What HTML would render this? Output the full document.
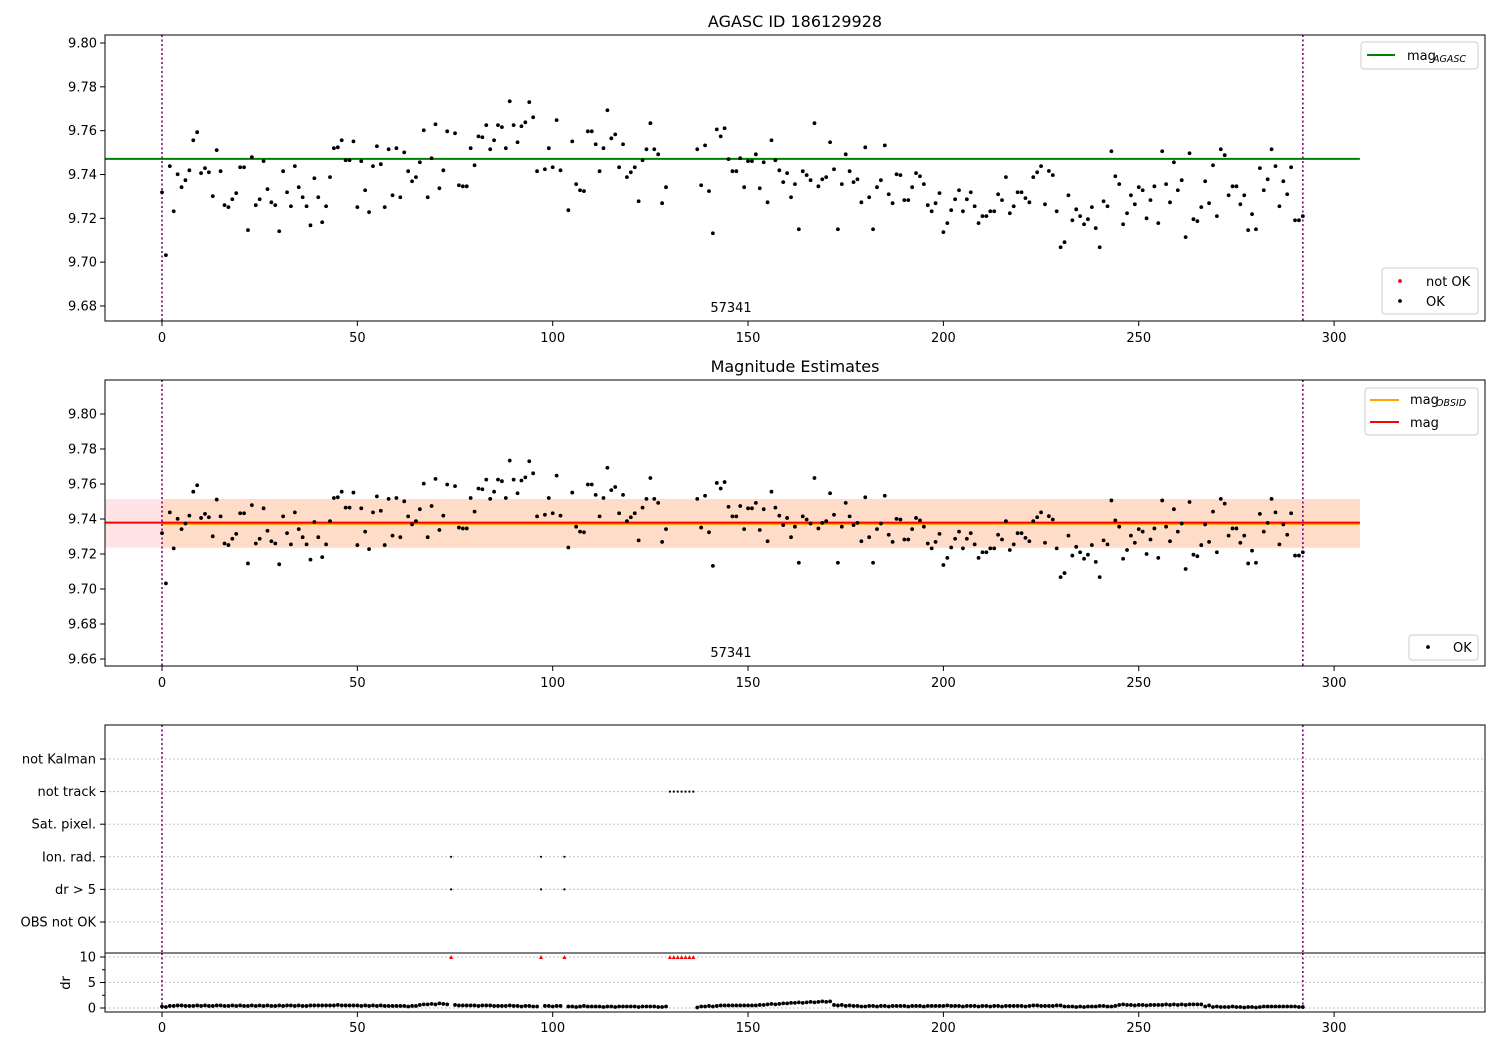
<!DOCTYPE html>
<html><head><meta charset="utf-8"><style>
body{margin:0;background:#fff}
svg text{font-family:"DejaVu Sans","Liberation Sans",sans-serif;fill:#000}
</style></head><body>
<svg id="fig" xmlns="http://www.w3.org/2000/svg" width="1500" height="1050" viewBox="0 0 1500 1050"></svg>
<script>
const N=[null];
const magValues=[9.7319,9.7032,9.7438,9.7232,9.7401,9.7342,9.7374,9.7419,9.7556,9.7593,
9.7406,9.7429,9.7410,9.7301,9.7511,9.7415,9.7260,9.7251,9.7287,9.7315,
9.7433,9.7433,9.7146,9.7479,9.7260,9.7287,9.7461,9.7333,9.7273,9.7260,
9.7141,9.7415,9.7319,9.7255,9.7438,9.7342,9.7296,9.7255,9.7168,9.7383,
9.7296,9.7182,9.7255,9.7388,9.7520,9.7524,9.7556,9.7465,9.7465,9.7551,
9.7251,9.7461,9.7328,9.7228,9.7438,9.7529,9.7447,9.7251,9.7515,9.7305,
9.7520,9.7296,9.7501,9.7415,9.7369,9.7388,9.7456,9.7602,9.7296,9.7474,
9.7629,9.7337,9.7419,9.7597,null,9.7588,9.7351,9.7346,9.7346,9.7520,
9.7442,9.7574,9.7570,9.7625,9.7515,9.7556,9.7625,9.7616,9.7520,9.7734,
9.7625,9.7547,9.7620,9.7638,9.7730,9.7661,9.7415,null,9.7424,9.7520,
9.7433,9.7648,9.7419,null,9.7237,9.7551,9.7356,9.7328,9.7324,9.7597,
9.7597,9.7538,9.7415,9.7520,9.7693,9.7565,9.7583,9.7433,9.7538,9.7388,
9.7410,9.7433,9.7278,9.7465,9.7515,9.7634,9.7515,9.7492,9.7269,9.7342,
null,null,null,null,null,null,null,9.7515,9.7351,9.7533,
9.7324,9.7132,9.7606,9.7574,9.7611,9.7470,9.7415,9.7415,9.7474,9.7342,
9.7461,9.7461,9.7492,9.7337,9.7456,9.7273,9.7556,9.7465,9.7419,9.7365,
9.7406,9.7296,9.7356,9.7150,9.7415,9.7397,9.7374,9.7634,9.7346,9.7378,
9.7388,9.7547,9.7424,9.7150,9.7356,9.7492,9.7415,9.7365,9.7378,9.7273,
9.7524,9.7296,9.7150,9.7342,9.7374,9.7533,9.7310,9.7269,9.7401,9.7397,
9.7283,9.7283,9.7342,9.7406,9.7392,9.7356,9.7260,9.7232,9.7269,9.7315,
9.7137,9.7178,9.7237,9.7287,9.7328,9.7232,9.7287,9.7319,9.7255,9.7178,
9.7210,9.7210,9.7232,9.7232,9.7310,9.7283,9.7388,9.7223,9.7255,9.7319,
9.7319,9.7292,9.7273,9.7388,9.7410,9.7438,9.7264,9.7416,9.7397,9.7232,
9.7068,9.7091,9.7305,9.7191,9.7241,9.7210,9.7173,9.7196,9.7251,9.7155,
9.7068,9.7278,9.7255,9.7506,9.7392,9.7356,9.7173,9.7223,9.7305,9.7264,
9.7342,9.7328,9.7200,9.7283,9.7346,9.7178,9.7506,9.7356,9.7273,9.7456,
9.7328,9.7374,9.7114,9.7497,9.7196,9.7187,9.7251,9.7369,9.7269,9.7442,
9.7210,9.7515,9.7488,9.7305,9.7346,9.7346,9.7264,9.7305,9.7146,9.7219,
9.7150,9.7429,9.7328,9.7378,9.7515,9.7438,9.7255,9.7369,9.7310,9.7433,
9.7191,9.7191,9.7210];
const drValues=[.3,.2,.4,.4,.5,.5,.4,.4,.4,.5,
.4,.5,.4,.4,.5,.5,.4,.4,.5,.4,
.5,.4,.4,.5,.4,.5,.4,.5,.4,.4,
.5,.4,.5,.5,.4,.5,.4,.4,.5,.5,
.5,.5,.5,.5,.5,.6,.5,.5,.5,.5,
.5,.4,.5,.4,.5,.4,.5,.4,.4,.4,
.4,.4,.4,.3,.4,.4,.6,.7,.7,.8,
.7,.9,.8,.7,10,.6,.5,.5,.5,.5,
.5,.4,.5,.5,.5,.4,.4,.4,.4,.5,
.4,.4,.3,.4,.4,.3,.3,10,.4,.4,
.3,.4,.4,10,.3,.3,.2,.3,.4,.3,
.3,.3,.3,.2,.3,.3,.2,.3,.3,.3,
.3,.3,.2,.3,.3,.3,.3,.2,.2,.3,
10,10,10,10,10,10,10,
.1,.3,.3,.4,.3,.4,.5,.5,.5,.5,
.5,.5,.5,.5,.5,.5,.6,.6,.7,.8,
.7,.8,.9,.9,1.0,1.0,1.1,1.0,1.1,1.2,
1.1,1.2,1.3,1.2,1.3,.6,.5,.6,.4,.5,
.4,.4,.3,.3,.4,.4,.3,.4,.4,.3,
.4,.4,.4,.4,.3,.4,.4,.4,.3,.4,
.4,.4,.4,.4,.5,.4,.4,.4,.3,.4,
.4,.4,.3,.4,.4,.3,.4,.4,.3,.4,
.4,.4,.4,.4,.3,.4,.5,.5,.4,.4,
.4,.4,.5,.5,.3,.3,.3,.2,.3,.2,
.3,.3,.3,.4,.4,.3,.3,.4,.6,.7,
.6,.6,.5,.6,.6,.5,.6,.6,.6,.6,
.7,.6,.7,.6,.7,.6,.7,.7,.7,.7,
.3,.5,.2,.3,.2,.2,.2,.3,.2,.2,
.1,.2,.2,.1,.2,.3,.3,.3,.3,.3,
.3,.3,.3,.3,.2,.2];
const flagCategories=["not Kalman","not track","Sat. pixel.","Ion. rad.","dr > 5","OBS not OK"];
const notTrackIdx=[130,131,132,133,134,135,136];
const ionRadIdx=[74,97,103];
const drGt5Idx=[74,97,103];
const magAgasc=9.7471;
const magMean=9.7379;
const magObsid=9.7372;
const bandLo=9.7236, bandHi=9.7514;
const obsStart=0, obsEnd=292, lineEnd=306.6;
const xTicks=[0,50,100,150,200,250,300];
const topYTicks=[9.68,9.70,9.72,9.74,9.76,9.78,9.80];
const midYTicks=[9.66,9.68,9.70,9.72,9.74,9.76,9.78,9.80];
const drTicks=[0,5,10];

const svg=document.getElementById('fig');
const NS='http://www.w3.org/2000/svg';
function mk(tag,attrs,parent,txt){const e=document.createElementNS(NS,tag);for(const k in attrs)e.setAttribute(k,attrs[k]);if(txt!==undefined)e.textContent=txt;(parent||svg).appendChild(e);return e;}
const L=105,R=1485;
const xS=v=>162+v*3.907;
const yTop=v=>43+(9.80-v)*2191.5;
const yMid=v=>414+(9.80-v)*1750;
const yDr=v=>1008-v*5.1;
const yFlag=k=>759+k*32.6;

function axisX(g,y0,labelY){
  xTicks.forEach(t=>{mk('line',{x1:xS(t),x2:xS(t),y1:y0,y2:y0+5,stroke:'#000'},g);
    const tx=mk('text',{x:xS(t),y:labelY,'font-size':13,'text-anchor':'middle'},g,String(t));
    
    });
}
function axisY(g,ticks,yf,fmt){
  ticks.forEach(t=>{mk('line',{x1:L-5,x2:L,y1:yf(t),y2:yf(t),stroke:'#000'},g);
    const tx=mk('text',{x:L-8,y:yf(t)+4.5,'font-size':13,'text-anchor':'end'},g,fmt(t));
    
    });
}
function vlines(g,y1,y2){[obsStart,obsEnd].forEach(v=>mk('line',{x1:xS(v),x2:xS(v),y1:y1,y2:y2,stroke:'#800080','stroke-width':1.6,'stroke-dasharray':'2,2.5'},g));}
function dots(g,yf,clipTop,clipBot){
  magValues.forEach((v,i)=>{if(v===null)return;const y=yf(v);if(y<clipTop||y>clipBot)return;
    const c=mk('circle',{cx:xS(i),cy:y,r:1.9,fill:'#000'},g);
    
    });
}

// ---- Top panel
const g1=mk('g',{});
mk('text',{x:795,y:27,'font-size':16,'text-anchor':'middle'},g1,'AGASC ID 186129928');
mk('line',{x1:L,x2:xS(lineEnd),y1:yTop(magAgasc),y2:yTop(magAgasc),stroke:'#008000','stroke-width':2},g1);
vlines(g1,35,321);
dots(g1,yTop,35,321);
mk('text',{x:731,y:312,'font-size':13,'text-anchor':'middle'},g1,'57341');
mk('rect',{x:L,y:35,width:R-L,height:286,fill:'none',stroke:'#000'},g1);
axisX(g1,321,342);axisY(g1,topYTicks,yTop,t=>t.toFixed(2));
// legends
let lg=mk('g',{},g1);
mk('rect',{x:1361,y:42,width:117,height:27,rx:3,fill:'#fff',stroke:'#ccc'},lg);
mk('line',{x1:1367,x2:1395,y1:55,y2:55,stroke:'#008000','stroke-width':2},lg);
mk('text',{x:1407,y:60,'font-size':13},lg,'mag');mk('text',{x:1433,y:62,'font-size':9.5,'font-style':'italic'},lg,'AGASC');
lg=mk('g',{},g1);
mk('rect',{x:1382,y:268,width:96,height:46,rx:3,fill:'#fff',stroke:'#ccc'},lg);
mk('circle',{cx:1400,cy:281,r:1.9,fill:'red'},lg);mk('text',{x:1426,y:286,'font-size':13},lg,'not OK');
mk('circle',{cx:1400,cy:301,r:1.9,fill:'#000'},lg);mk('text',{x:1426,y:306,'font-size':13},lg,'OK');

// ---- Middle panel
const g2=mk('g',{});
mk('text',{x:795,y:372,'font-size':16,'text-anchor':'middle'},g2,'Magnitude Estimates');
mk('rect',{x:L,y:yMid(bandHi),width:xS(lineEnd)-L,height:yMid(bandLo)-yMid(bandHi),fill:'#ffe3e6'},g2);
mk('rect',{x:xS(obsStart),y:yMid(bandHi),width:xS(lineEnd)-xS(obsStart),height:yMid(bandLo)-yMid(bandHi),fill:'#ffdcc8'},g2);
mk('line',{x1:xS(obsStart),x2:xS(lineEnd),y1:yMid(magObsid),y2:yMid(magObsid),stroke:'orange','stroke-width':2},g2);
mk('line',{x1:L,x2:xS(lineEnd),y1:yMid(magMean),y2:yMid(magMean),stroke:'red','stroke-width':2},g2);
vlines(g2,380,666);
dots(g2,yMid,380,666);
mk('text',{x:731,y:657,'font-size':13,'text-anchor':'middle'},g2,'57341');
mk('rect',{x:L,y:380,width:R-L,height:286,fill:'none',stroke:'#000'},g2);
axisX(g2,666,687);axisY(g2,midYTicks,yMid,t=>t.toFixed(2));
lg=mk('g',{},g2);
mk('rect',{x:1365,y:388,width:113,height:47,rx:3,fill:'#fff',stroke:'#ccc'},lg);
mk('line',{x1:1370,x2:1399,y1:400,y2:400,stroke:'orange','stroke-width':2},lg);
mk('text',{x:1410,y:404,'font-size':13},lg,'mag');mk('text',{x:1436,y:406,'font-size':9.5,'font-style':'italic'},lg,'OBSID');
mk('line',{x1:1370,x2:1399,y1:422,y2:422,stroke:'red','stroke-width':2},lg);
mk('text',{x:1410,y:427,'font-size':13},lg,'mag');
lg=mk('g',{},g2);
mk('rect',{x:1409,y:635,width:69,height:25,rx:3,fill:'#fff',stroke:'#ccc'},lg);
mk('circle',{cx:1428,cy:647,r:1.9,fill:'#000'},lg);mk('text',{x:1453,y:652,'font-size':13},lg,'OK');

// ---- Flags panel
const g3=mk('g',{});
flagCategories.forEach((c,k)=>{
  mk('line',{x1:L,x2:R,y1:yFlag(k),y2:yFlag(k),stroke:'#b0b0b0','stroke-dasharray':'1.5,2.5'},g3);
  mk('line',{x1:L-5,x2:L,y1:yFlag(k),y2:yFlag(k),stroke:'#000'},g3);
  const t=mk('text',{x:L-9,y:yFlag(k)+4.5,'font-size':13,'text-anchor':'end'},g3,c);
  
  
});
vlines(g3,725,953);
function flagDots(arr,k){arr.forEach(i=>{const c=mk('circle',{cx:xS(i),cy:yFlag(k),r:1.1,fill:'#000'},g3);
  
  });}
flagDots(notTrackIdx,1);flagDots(ionRadIdx,3);flagDots(drGt5Idx,4);
mk('rect',{x:L,y:725,width:R-L,height:228,fill:'none',stroke:'#000'},g3);

// ---- dr panel
const g4=mk('g',{});
drTicks.forEach(t=>{mk('line',{x1:L,x2:R,y1:yDr(t),y2:yDr(t),stroke:'#b0b0b0','stroke-dasharray':'1.5,2.5'},g4);
  mk('line',{x1:L-5,x2:L,y1:yDr(t),y2:yDr(t),stroke:'#000'},g4);
  const tx=mk('text',{x:L-9,y:yDr(t)+4.5,'font-size':13,'text-anchor':'end'},g4,String(t));
  
  });
[2.5,7.5].forEach(t=>mk('line',{x1:L-3,x2:L,y1:yDr(t),y2:yDr(t),stroke:'#000'},g4));
vlines(g4,953,1012);
drValues.forEach((v,i)=>{
  if(v>=10){const x=xS(i),y=yDr(10);
    const p=mk('path',{d:`M${x-2},${y+2} L${x+2},${y+2} L${x},${y-2} Z`,fill:'red'},g4);
    
    }
  else{const c=mk('circle',{cx:xS(i),cy:yDr(v),r:1.9,fill:'#000'},g4);
    
    }
});
mk('rect',{x:L,y:953,width:R-L,height:59,fill:'none',stroke:'#000'},g4);
axisX(g4,1012,1032);
const yl=mk('text',{x:0,y:0,'font-size':13,'text-anchor':'middle',transform:'translate(70,983) rotate(-90)'},g4,'dr');


</script>
</body></html>
